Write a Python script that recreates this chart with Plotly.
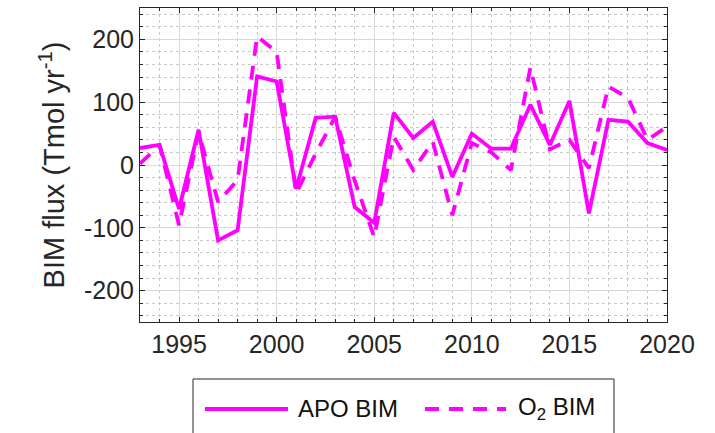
import plotly.graph_objects as go

# Annual biological (BIM) oxygen flux estimates, Tmol/yr
years = list(range(1993, 2021))
apo_bim = [27, 32, -70, 56, -120, -104, 141, 133, -38, 75, 77, -67, -92, 83,
           43, 69, -19, 50, 26, 26, 96, 32, 102, -77, 72, 69, 35, 24]
o2_bim = [2, 32, -96, 52, -59, -24, 205, 180, -45, 18, 77, -25, -115, 45,
          -8, 37, -80, 35, 20, -8, 155, 25, 40, -5, 125, 107, 40, 61]

x_ticks = [1995, 2000, 2005, 2010, 2015, 2020]
y_ticks = [-200, -100, 0, 100, 200]
y_tick_labels = ["-200", "-100", "0", "100", "200"]

MAGENTA = "#FF00FF"
FONT = "Liberation Sans, Arial, Helvetica, sans-serif"
AXIS_COLOR = "#262626"

fig = go.Figure()
fig.add_trace(go.Scatter(x=years, y=apo_bim, mode="lines", name="APO BIM",
                         line=dict(color=MAGENTA, width=3.8)))
fig.add_trace(go.Scatter(x=years, y=o2_bim, mode="lines", name="O<sub>2</sub> BIM",
                         line=dict(color=MAGENTA, width=3.8, dash="14px,10px")))

axis_common = dict(
    showline=True, linecolor=AXIS_COLOR, linewidth=1, mirror="allticks",
    ticks="inside", ticklen=5, tickcolor=AXIS_COLOR, tickwidth=1,
    showgrid=True, gridcolor="#d9d9d9", gridwidth=1,
    zeroline=False,
    tickfont=dict(family=FONT, size=25, color=AXIS_COLOR),
)

fig.update_xaxes(range=[1993, 2020], tickvals=x_ticks,
                 minor=dict(dtick=1, tick0=1993, ticks="inside", ticklen=3,
                            tickcolor=AXIS_COLOR, showgrid=True,
                            gridcolor="#c8c8c8", griddash="dot", gridwidth=1),
                 **axis_common)
fig.update_yaxes(range=[-250, 250], tickvals=y_ticks, ticktext=y_tick_labels,
                 minor=dict(dtick=20, tick0=0, ticks="inside", ticklen=3,
                            tickcolor=AXIS_COLOR, showgrid=True,
                            gridcolor="#c8c8c8", griddash="dot", gridwidth=1),
                 title=dict(text="BIM flux (Tmol yr<sup>-1</sup>)",
                            font=dict(family=FONT, size=29, color=AXIS_COLOR),
                            standoff=10),
                 **axis_common)

# Legend box below the axes, drawn in paper coordinates
W, H = 715, 433
L, R, T, B = 140, 48, 8, 111
pw, ph = W - L - R, H - T - B


def px(xp):
    return (xp - L) / pw


def py(yp):
    return (H - B - yp) / ph


shapes = [
    dict(type="rect", xref="paper", yref="paper",
         x0=px(193), x1=px(614), y0=py(379), y1=py(460),
         line=dict(color=AXIS_COLOR, width=1), fillcolor="white", layer="above"),
    dict(type="line", xref="paper", yref="paper",
         x0=px(205), x1=px(288), y0=py(409), y1=py(409),
         line=dict(color=MAGENTA, width=3.8), layer="above"),
    dict(type="line", xref="paper", yref="paper",
         x0=px(425), x1=px(506), y0=py(409), y1=py(409),
         line=dict(color=MAGENTA, width=3.8, dash="14px,10px"), layer="above"),
]
annotations = [
    dict(xref="paper", yref="paper", x=px(296), y=py(408), xanchor="left",
         yanchor="middle", text="APO BIM", showarrow=False,
         font=dict(family=FONT, size=24, color="#111111")),
    dict(xref="paper", yref="paper", x=px(516), y=py(408), xanchor="left",
         yanchor="middle", text="O<sub>2</sub> BIM", showarrow=False,
         font=dict(family=FONT, size=24, color="#111111")),
]

fig.update_layout(
    width=W, height=H,
    margin=dict(l=L, r=R, t=T, b=B),
    paper_bgcolor="white", plot_bgcolor="white",
    showlegend=False,
    shapes=shapes, annotations=annotations,
)

fig.write_html("out.html")
